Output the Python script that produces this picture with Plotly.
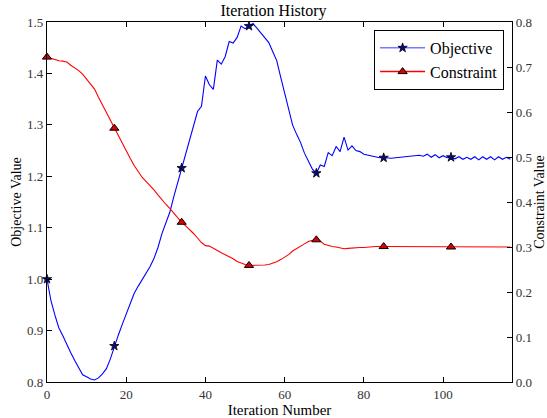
import plotly.graph_objects as go

# Optimisation history: objective (left axis) and constraint (right axis) per iteration
iterations = list(range(118))

objective = [
    1.000, 0.958, 0.930, 0.905, 0.890, 0.872, 0.857, 0.842, 0.828, 0.814,
    0.810, 0.806, 0.804, 0.808, 0.816, 0.826, 0.845, 0.870, 0.891, 0.912,
    0.933, 0.953, 0.972, 0.986, 0.998, 1.011, 1.024, 1.040, 1.061, 1.088,
    1.110, 1.130, 1.160, 1.188, 1.216, 1.244, 1.270, 1.300, 1.326, 1.336,
    1.395, 1.378, 1.369, 1.426, 1.418, 1.433, 1.462, 1.459, 1.470, 1.492,
    1.487, 1.492, 1.497, 1.488, 1.478, 1.468, 1.460, 1.442, 1.425, 1.393,
    1.363, 1.335, 1.300, 1.282, 1.266, 1.245, 1.228, 1.214, 1.206, 1.222,
    1.219, 1.246, 1.240, 1.258, 1.248, 1.276, 1.251, 1.259, 1.250, 1.248,
    1.243, 1.241, 1.240, 1.237, 1.236, 1.236, 1.235, 1.235, 1.236, 1.237,
    1.238, 1.239, 1.240, 1.240, 1.241, 1.239, 1.243, 1.237, 1.242, 1.236,
    1.240, 1.236, 1.237, 1.234, 1.238, 1.233, 1.237, 1.233, 1.238, 1.232,
    1.238, 1.233, 1.238, 1.232, 1.238, 1.233, 1.237, 1.233,
]

constraint = [
    0.722, 0.719, 0.716, 0.714, 0.713, 0.711, 0.704, 0.698, 0.692, 0.684,
    0.673, 0.664, 0.651, 0.633, 0.616, 0.598, 0.580, 0.564, 0.546, 0.528,
    0.512, 0.497, 0.481, 0.467, 0.455, 0.446, 0.437, 0.427, 0.416, 0.405,
    0.395, 0.386, 0.375, 0.365, 0.355, 0.347, 0.339, 0.330, 0.320, 0.310,
    0.303, 0.302, 0.297, 0.291, 0.287, 0.283, 0.279, 0.274, 0.268, 0.264,
    0.261, 0.259, 0.259, 0.259, 0.260, 0.260, 0.261, 0.264, 0.267, 0.272,
    0.277, 0.283, 0.291, 0.297, 0.302, 0.307, 0.312, 0.315, 0.316, 0.313,
    0.306, 0.303, 0.301, 0.300, 0.298, 0.296, 0.297, 0.298, 0.298, 0.299,
    0.299, 0.300, 0.300, 0.301, 0.301, 0.301, 0.300, 0.300, 0.301, 0.300,
    0.300, 0.300, 0.300, 0.300, 0.300, 0.300, 0.300, 0.300, 0.300, 0.300,
    0.300, 0.300, 0.300, 0.300, 0.300, 0.300, 0.300, 0.300, 0.300, 0.300,
    0.300, 0.300, 0.300, 0.300, 0.300, 0.300, 0.300, 0.300,
]

marker_every = 17
x_ticks = [0, 20, 40, 60, 80, 100]
left_ticks = [0.8, 0.9, 1.0, 1.1, 1.2, 1.3, 1.4, 1.5]
right_ticks = [0.0, 0.1, 0.2, 0.3, 0.4, 0.5, 0.6, 0.7, 0.8]

FONT = "Liberation Serif"
BLUE = "#0000ff"
RED = "#ff0000"

mark_idx = iterations[::marker_every]

star_marker = dict(symbol="star", size=7, color="#0a0a80",
                   line=dict(color="black", width=0.8))
tri_marker = dict(symbol="triangle-up", size=8, color="#dd0000",
                  line=dict(color="black", width=1))

fig = go.Figure()

# Lines
fig.add_trace(go.Scatter(x=iterations, y=objective, mode="lines",
                         line=dict(color=BLUE, width=1.1), showlegend=False,
                         yaxis="y"))
fig.add_trace(go.Scatter(x=iterations, y=constraint, mode="lines",
                         line=dict(color=RED, width=1.1), showlegend=False,
                         yaxis="y2"))

# Markers on every 17th iteration
fig.add_trace(go.Scatter(x=mark_idx, y=[objective[i] for i in mark_idx], mode="markers",
                         marker=star_marker, showlegend=False, cliponaxis=False,
                         yaxis="y"))
fig.add_trace(go.Scatter(x=mark_idx, y=[constraint[i] for i in mark_idx], mode="markers",
                         marker=tri_marker, showlegend=False, cliponaxis=False,
                         yaxis="y2"))

# Legend entries
fig.add_trace(go.Scatter(x=[None], y=[None], mode="lines+markers", name="Objective",
                         line=dict(color="#7777ff", width=1.5), marker=star_marker))
fig.add_trace(go.Scatter(x=[None], y=[None], mode="lines+markers", name="Constraint",
                         line=dict(color=RED, width=1.5), marker=tri_marker,
                         yaxis="y2"))

axis_common = dict(showgrid=False, zeroline=False, showline=True, linecolor="black",
                   linewidth=1.3, ticks="inside", ticklen=5, tickcolor="black",
                   automargin=False,
                   tickfont=dict(family=FONT, size=13, color="#333333"))

fig.update_layout(
    width=547, height=418,
    margin=dict(l=47, r=35, t=22, b=36),
    paper_bgcolor="white", plot_bgcolor="white",
    font=dict(family=FONT, color="black"),
    title=dict(text="Iteration History", x=0.5, xanchor="center", y=0.976, yanchor="middle",
               font=dict(family=FONT, size=16, color="black")),
    xaxis=dict(range=[0, 117.4], tickvals=x_ticks, mirror="ticks",
               title=dict(text="Iteration Number", standoff=1,
                          font=dict(family=FONT, size=15)),
               **axis_common),
    yaxis=dict(range=[0.8, 1.5], tickvals=left_ticks,
               ticktext=[f"{v:.1f}" for v in left_ticks],
               title=dict(text="Objective Value", standoff=2,
                          font=dict(family=FONT, size=14)),
               **axis_common),
    yaxis2=dict(range=[0.0, 0.8], tickvals=right_ticks,
                ticktext=[f"{v:.1f}" for v in right_ticks],
                overlaying="y", side="right",
                title=dict(text="Constraint Value", standoff=4,
                           font=dict(family=FONT, size=14)),
                **axis_common),
    legend=dict(x=0.983, y=0.978, xanchor="right", yanchor="top",
                bgcolor="white", bordercolor="black", borderwidth=1,
                itemwidth=45,
                font=dict(family=FONT, size=16), tracegroupgap=2),
)

fig.write_html("out.html")
